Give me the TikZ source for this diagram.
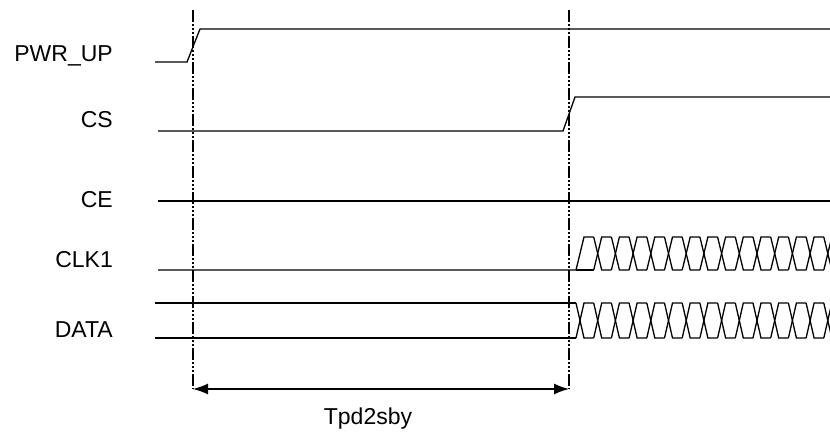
\documentclass[tikz,border=0pt]{standalone}
\usepackage{fontspec}
\setmainfont{Liberation Sans}
\usetikzlibrary{arrows.meta}
\begin{document}
\begin{tikzpicture}[x=1pt,y=-1pt,
  sig/.style={line width=1.3pt, line join=miter},
  guide/.style={line width=1.1pt, dash pattern=on 12pt off 2pt on 2pt off 2pt on 2pt off 2pt on 2pt off 2pt},
  lbl/.style={anchor=base east, inner sep=0pt, font=\fontsize{23}{27}\selectfont},
  dimlbl/.style={anchor=base, inner sep=0pt, font=\fontsize{23}{27}\selectfont},
  dim/.style={line width=1.3pt, {Latex[length=15pt,width=11pt]}-{Latex[length=15pt,width=11pt]}}
]
\useasboundingbox (0,0) rectangle (830,433);
% labels
\node[lbl] (lpwr) at (113,62) {PWR\_UP};
\node[lbl] (lcs) at (113,128) {CS};
\node[lbl] (lce) at (113,207) {CE};
\node[lbl] (lclk) at (113,267) {CLK1};
\node[lbl] (ldata) at (113,337) {DATA};
% guide coordinates
\coordinate (t1top) at (193,10);
\coordinate (t1bot) at (193,389);
\coordinate (t2top) at (569,10);
\coordinate (t2bot) at (569,389);
\draw[guide] (t1top) -- (t1bot);
\draw[guide] (t2top) -- (t2bot);
\begin{scope}
\clip (0,0) rectangle (830,433);
% PWR_UP
\draw[sig] (155,62) -- (187,62) -- (200,29) -- (832,29);
% CS
\draw[sig] (158,131) -- (563,131) -- (575,97) -- (832,97);
% CE
\draw[sig] (158,201) -- (832,201);
% DATA
\draw[sig] (155,303) -- (576,303);
\draw[sig] (155,338) -- (576,338);
\foreach \k in {0,...,14}{
  \pgfmathsetmacro{\c}{580+17.7*\k}
  \pgfmathsetmacro{\a}{\c-4}
  \pgfmathsetmacro{\b}{\c+4}
  \pgfmathsetmacro{\n}{\c+17.7-4}
  \draw[sig] (\a,303) -- (\b,338) -- (\n,338);
  \draw[sig] (\a,338) -- (\b,303) -- (\n,303);
}
% CLK1
\draw[sig] (158,270) -- (576,270) -- (584,237) -- (593.7,237);
\draw[sig] (576,270) -- (593.7,270);
\foreach \k in {1,...,14}{
  \pgfmathsetmacro{\c}{580+17.7*\k}
  \pgfmathsetmacro{\a}{\c-4}
  \pgfmathsetmacro{\b}{\c+4}
  \pgfmathsetmacro{\n}{\c+17.7-4}
  \draw[sig] (\a,237) -- (\b,270) -- (\n,270);
  \draw[sig] (\a,270) -- (\b,237) -- (\n,237);
}
\end{scope}
% dimension
\draw[dim] (t1bot) -- (t2bot);
\node[dimlbl] (tpd) at (368,424) {Tpd2sby};
\end{tikzpicture}
\end{document}
